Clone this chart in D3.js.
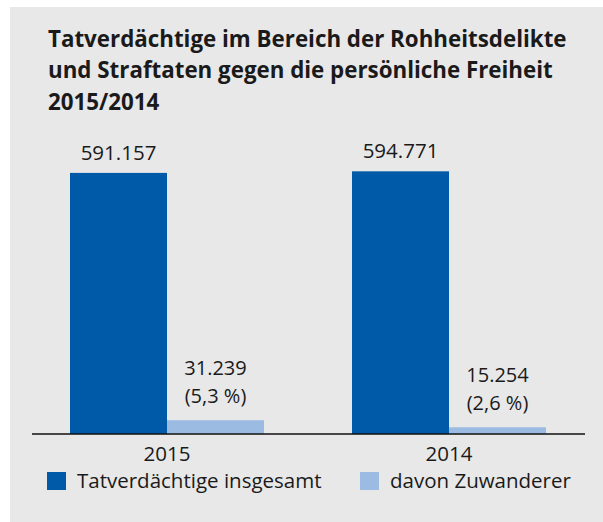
<!DOCTYPE html>
<html>
<head>
<meta charset="utf-8">
<script src="https://cdn.jsdelivr.net/npm/d3@7"></script>
<style>
  body { margin: 0; background: #fff; }
  text { font-family: "Open Sans", "Noto Sans", sans-serif; fill: #1a1a1a; }
</style>
</head>
<body>
<script>
 // data
 const years = ['2015', '2014'];
 const insgesamt = [591157, 594771];
 const zuwanderer = [31239, 15254];
 const anteil = ['5,3 %', '2,6 %'];
 const seriesNames = ['Tatverdächtige insgesamt', 'davon Zuwanderer'];
 const titleLines = [
    'Tatverdächtige im Bereich der Rohheitsdelikte',
    'und Straftaten gegen die persönliche Freiheit',
    '2015/2014'
 ];

 // constants
 const width = 603;
 const height = 522;
 const baseY = 434;
 const colors = ['#005aa8', '#9bbbe3'];
 const de = d3.formatLocale({ decimal: ',', thousands: '.', grouping: [3], currency: ['', '€'] });
 const fmt = de.format(',d');

 const svg = d3.select('body').append('svg')
       .attr('width', width).attr('height', height);

 // grey panel
 svg.append('rect').attr('x', 10).attr('y', 7)
    .attr('width', width - 10).attr('height', height - 7)
    .attr('fill', '#e8e8e8');

 // title
 const title = svg.append('g').attr('class', 'title');
 title.selectAll('text').data(titleLines).enter().append('text')
      .attr('x', 0).attr('y', (d, i) => [47, 78, 110][i])
      .style('font-weight', 700).style('font-size', '23px')
      .text(d => d);
 const natural = title.select('text').node().getComputedTextLength();
 title.attr('transform', `translate(48,0) scale(${519 / natural},1)`);

 // scales
 const xScale = d3.scaleBand().domain(years).range([26, 590])
       .paddingInner(0.312).paddingOuter(0.156);
 const xSub = d3.scaleBand().domain([0, 1]).range([0, xScale.bandwidth()]);
 const yScale = d3.scaleLinear().domain([0, 600000]).range([baseY, baseY - 265]);

 const rows = years.map((y, i) => ({ year: y, values: [insgesamt[i], zuwanderer[i]], share: anteil[i] }));

 const groups = svg.append('g').selectAll('g').data(rows).enter().append('g')
       .attr('transform', d => `translate(${xScale(d.year)},0)`);

 groups.selectAll('rect').data(d => d.values).enter().append('rect')
       .attr('x', (d, i) => xSub(i)).attr('width', xSub.bandwidth())
       .attr('y', d => yScale(d)).attr('height', d => baseY - yScale(d))
       .attr('fill', (d, i) => colors[i]);

 // labels total
 groups.append('text')
       .attr('x', xSub(0) + xSub.bandwidth() / 2)
       .attr('y', d => yScale(d.values[0]) - 13)
       .attr('text-anchor', 'middle').style('font-size', '20.5px')
       .text(d => fmt(d.values[0]));

 // labels zuwanderer, two lines
 groups.append('text')
       .attr('x', xSub(1) + xSub.bandwidth() / 2)
       .attr('y', d => yScale(d.values[1]) - 45)
       .attr('text-anchor', 'middle').style('font-size', '20px')
       .text(d => fmt(d.values[1]));
 groups.append('text')
       .attr('x', xSub(1) + xSub.bandwidth() / 2)
       .attr('y', d => yScale(d.values[1]) - 17)
       .attr('text-anchor', 'middle').style('font-size', '20px')
       .text(d => `(${d.share})`);

 // x axis
 const xAxis = svg.append('g').attr('transform', `translate(0,${baseY})`)
       .call(d3.axisBottom(xScale).tickSize(0).tickPadding(12));
 xAxis.select('.domain').remove();
 xAxis.selectAll('text').style('font-size', '20.5px')
      .style('font-family', '"Open Sans", sans-serif').attr('fill', '#1a1a1a');
 svg.append('line').attr('x1', 32).attr('x2', 585)
    .attr('y1', baseY).attr('y2', baseY)
    .attr('stroke', '#111').attr('stroke-width', 1.5);

 // legend
 const legend = svg.append('g').selectAll('g').data(seriesNames).enter().append('g')
       .attr('transform', (d, i) => `translate(${[47, 360][i]},472)`);
 legend.append('rect').attr('width', 19).attr('height', 18)
       .attr('fill', (d, i) => colors[i]);
 legend.append('text').attr('x', 30).attr('y', 16)
       .style('font-size', '20.5px').text(d => d);
</script>
</body>
</html>
